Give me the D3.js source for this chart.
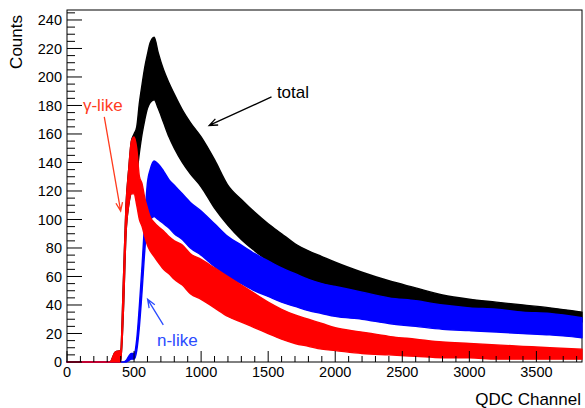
<!DOCTYPE html>
<meta charset="utf-8">
<title>QDC spectrum</title>
<style>

body {
  margin: 0;
  background: #fff;
  font-family: "Liberation Sans", Arial, sans-serif;
}

.frame {
  fill: none;
  stroke: #000;
  stroke-width: 1;
}

.band {
  stroke-width: 1.4;
  stroke-linejoin: round;
}

</style>
<svg width="585" height="408"></svg>
<script src="https://cdn.jsdelivr.net/npm/d3@7"></script>
<script>

// channel grid the envelopes were read on
var channels = [0, 320, 360, 400, 420, 440, 460, 480, 500, 520, 540, 560, 580, 600, 620, 650, 680, 720, 760, 800,
  860, 920, 1000, 1100, 1200, 1300, 1400, 1500, 1600, 1700, 1800, 1900, 2000, 2200, 2400, 2600, 2800, 3000, 3200, 3400, 3600, 3840];

// total (black): lower / upper edge of the noisy band
var totalLow  = [0, 0, 0, 0, 35, 90, 110, 120, 125, 132, 147, 160, 170, 178, 182, 184, 178, 168, 158, 150,
  140, 132, 123, 108, 96, 86, 78, 71, 66, 61, 57, 53, 50, 46, 42, 38, 35, 33, 32, 31, 30, 28];
var totalHigh = [0, 0, 7, 8, 55, 110, 135, 155, 160, 165, 182, 195, 207, 216, 224, 228, 217, 205, 196, 188,
  177, 168, 158, 142, 124, 114, 105, 97, 90, 83, 78, 74, 70, 63, 57, 52, 47, 44, 42, 40, 38, 35];

// n-like (blue)
var nLow  = [0, 0, 0, 0, 0, 0, 1, 2, 2, 8, 25, 50, 78, 98, 100, 102, 100, 97, 94, 90,
  86, 80, 75, 67, 60, 55, 50, 46, 42, 39, 36, 34, 32, 30, 27, 25, 23, 22, 21, 20, 19, 17];
var nHigh = [0, 0, 0, 0, 0, 1, 4, 6, 6, 16, 40, 68, 100, 126, 135, 141, 139, 134, 128, 124,
  118, 112, 106, 97, 88, 82, 76, 71, 66, 62, 58, 55, 53, 49, 45, 43, 40, 38, 37, 35, 34, 31];

// gamma-like (red)
var gammaLow  = [0, 0, 0, 0, 35, 90, 110, 118, 118, 110, 100, 95, 88, 82, 78, 74, 70, 65, 62, 58,
  54, 48, 44, 38, 32, 28, 24, 20, 16, 13, 11, 9, 8, 6, 5, 4, 3, 3, 2, 2, 2, 2];
var gammaHigh = [0, 0, 7, 8, 55, 110, 135, 155, 158, 150, 130, 125, 115, 108, 102, 98, 95, 92, 88, 85,
  82, 76, 72, 66, 60, 54, 48, 42, 37, 33, 30, 27, 24, 21, 18, 16, 14, 13, 12, 11, 10, 9];

var xTicks = d3.range(0, 3501, 500);
var yTicks = d3.range(0, 241, 20);

var series = [
  {name: "total",  color: "#000000", low: totalLow, high: totalHigh},
  {name: "n-like", color: "#0000ff", low: nLow, high: nHigh},
  {name: "γ-like", color: "#ff0000", low: gammaLow, high: gammaHigh}
];

// labels with arrows, in data units
var notes = [
  {text: "total",  color: "#000000", tx: 1565, ty: 185.5, x1: 1525, y1: 186, x2: 1060, y2: 166},
  {text: "γ-like", color: "#ff3b1e", tx: 119,  ty: 176,   x1: 278,  y1: 172, x2: 400,  y2: 106},
  {text: "n-like", color: "#2a4bff", tx: 671,  ty: 11.4,  x1: 718,  y1: 26,  x2: 601,  y2: 44}
];

var svg = d3.select("svg"),
    margin = {top: 10, right: 3, bottom: 46, left: 67},
    width = +svg.attr("width") - margin.left - margin.right,
    height = +svg.attr("height") - margin.top - margin.bottom;

var x = d3.scaleLinear().domain([0, 3840]).range([margin.left, margin.left + width]);
var y = d3.scaleLinear().domain([0, 247]).range([margin.top + height, margin.top]);

// frame first, histograms sit on top of it
svg.append("rect")
    .attr("class", "frame")
    .attr("x", margin.left)
    .attr("y", margin.top)
    .attr("width", width)
    .attr("height", height);

// histogram bands
var area = d3.area()
    .curve(d3.curveMonotoneX)
    .x(function(d) { return x(d.c); })
    .y0(function(d) { return y(d.lo); })
    .y1(function(d) { return y(d.hi); });

svg.append("g")
  .selectAll("path")
    .data(series)
  .enter().append("path")
    .attr("class", "band")
    .attr("fill", function(d) { return d.color; })
    .attr("stroke", function(d) { return d.color; })
    .attr("d", function(s) {
      return area(channels.map(function(c, i) { return {c: c, lo: s.low[i], hi: s.high[i]}; }));
    });

// x axis: ticks pointing up into the frame
var xAxis = svg.append("g")
    .attr("transform", "translate(0," + (margin.top + height) + ")");

xAxis.selectAll("line")
    .data(d3.range(0, 3840, 100))
  .enter().append("line")
    .attr("x1", x).attr("x2", x)
    .attr("y1", 0)
    .attr("y2", function(d) { return d % 500 === 0 ? -11 : -6; })
    .attr("stroke", "#000");

xAxis.selectAll("text")
    .data(xTicks)
  .enter().append("text")
    .attr("x", x)
    .attr("y", 15)
    .attr("text-anchor", "middle")
    .style("font-size", "14.5px")
    .text(function(d) { return d; });

// y axis: ticks pointing right
var yAxis = svg.append("g")
    .attr("transform", "translate(" + margin.left + ",0)");

yAxis.selectAll("line")
    .data(d3.range(0, 246, 5))
  .enter().append("line")
    .attr("y1", y).attr("y2", y)
    .attr("x1", 0)
    .attr("x2", function(d) { return d % 20 === 0 ? 15 : 8; })
    .attr("stroke", "#000");

yAxis.selectAll("text")
    .data(yTicks)
  .enter().append("text")
    .attr("x", -5)
    .attr("y", y)
    .attr("dy", "0.36em")
    .attr("text-anchor", "end")
    .style("font-size", "14.5px")
    .text(function(d) { return d; });

// axis titles
svg.append("text")
    .attr("x", margin.left + width - 1)
    .attr("y", 405)
    .attr("text-anchor", "end")
    .style("font-size", "17px")
    .text("QDC Channel");

svg.append("text")
    .attr("transform", "translate(22," + (margin.top + 5) + ") rotate(-90)")
    .attr("text-anchor", "end")
    .style("font-size", "17px")
    .text("Counts");

// annotations
var note = svg.append("g")
  .selectAll("g")
    .data(notes)
  .enter().append("g");

note.append("text")
    .attr("x", function(d) { return x(d.tx); })
    .attr("y", function(d) { return y(d.ty); })
    .attr("fill", function(d) { return d.color; })
    .style("font-size", "17px")
    .text(function(d) { return d.text; });

note.append("path")
    .attr("fill", "none")
    .attr("stroke", function(d) { return d.color; })
    .attr("stroke-width", 1.3)
    .attr("d", function(d) {
      var ax = x(d.x1), ay = y(d.y1), bx = x(d.x2), by = y(d.y2);
      var a = Math.atan2(by - ay, bx - ax), len = 9, spread = 0.38;
      var h1 = [bx - len * Math.cos(a - spread), by - len * Math.sin(a - spread)];
      var h2 = [bx - len * Math.cos(a + spread), by - len * Math.sin(a + spread)];
      return "M" + ax + "," + ay + "L" + bx + "," + by +
             "M" + h1[0] + "," + h1[1] + "L" + bx + "," + by + "L" + h2[0] + "," + h2[1];
    });

</script>
